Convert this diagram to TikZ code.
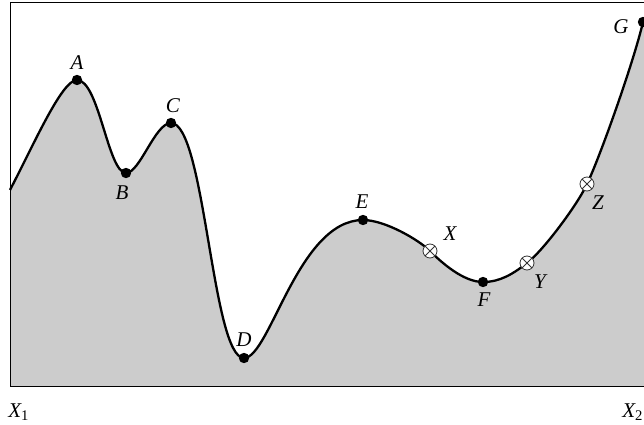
\documentclass[tikz,border=0pt]{standalone}
\usepackage{fontspec}
\setmainfont{Liberation Serif}

\begin{document}
\begin{tikzpicture}[x=0.5pt,y=0.5pt,
dot/.style={circle,fill=black,inner sep=0pt,minimum size=5.2pt},
xdot/.style={circle,draw=black!80,line width=0.4pt,fill=white,inner sep=0pt,minimum size=7pt,
  path picture={\draw[black!80,line width=0.4pt,shift={(path picture bounding box.center)}] (45:3.5pt) -- (225:3.5pt) (135:3.5pt) -- (-45:3.5pt);}},
lbl/.style={inner sep=0pt,font=\fontsize{10.5}{12}\selectfont\itshape},
ridge/.style={line width=1.15pt}]
% points on the curve
\coordinate (p0) at (10,234);
\foreach \n/\x/\y in {A/77/344,B/126/251,C/171/301,D/244/66,E/363/204,X/430/173,F/483/142,Y/527/161,Z/587/240,G/643/402}
  \coordinate (p\n) at (\x,\y);
\def\ridgeline{(p0) .. controls (35,282) and (62,344) .. (pA)
  .. controls (99,344) and (108,251) .. (pB)
  .. controls (140,251) and (155,301) .. (pC)
  .. controls (205,301) and (212,66) .. (pD)
  .. controls (270,66) and (298,204) .. (pE)
  .. controls (385,204) and (419,184) .. (pX)
  .. controls (441,162) and (463,142) .. (pF)
  .. controls (500,142) and (513,150) .. (pY)
  .. controls (543,173) and (578,220) .. (pZ)
  .. controls (600,267) and (634,363) .. (pG)}
\useasboundingbox (0,0) rectangle (644,424);
\clip (0,0) rectangle (644,424);
\fill[gray!40] (10,37) -- \ridgeline -- (660,402) -- (660,37) -- cycle;
\draw[line width=0.5pt] (10,37) rectangle (660,421);
\draw[ridge] \ridgeline;
% markers
\foreach \n in {A,B,C,D,E,F,G}
  \node[dot] (\n) at (p\n) {};
\foreach \n in {X,Y,Z}
  \node[xdot] (\n) at (p\n) {};
% labels
\foreach \n/\x/\y in {A/77/361,B/122/231,C/173/318,D/244/84,E/362/222,X/450/190,F/484/124,Y/540/142,Z/598/221,G/621/397}
  \node[lbl] (l\n) at (\x,\y) {\n};
\node[lbl,anchor=base west] (x1) at (8,7) {X\textsubscript{\upshape 1}};
\node[lbl,anchor=base west] (x2) at (622,7) {X\textsubscript{\upshape 2}};
\end{tikzpicture}
\end{document}
